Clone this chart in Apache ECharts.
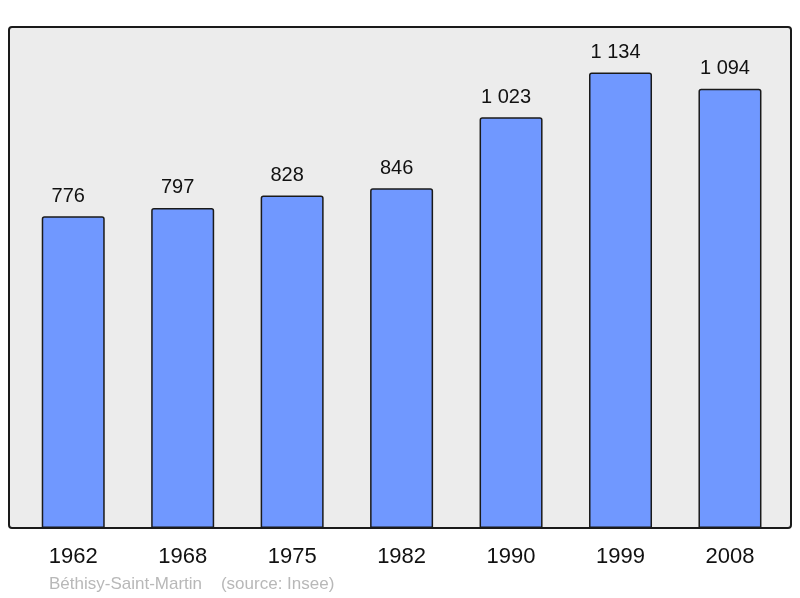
<!DOCTYPE html>
<html><head><meta charset="utf-8">
<script src="https://cdn.jsdelivr.net/npm/echarts@6/dist/echarts.min.js"></script>
<style>html,body{margin:0;padding:0;background:#fff}#c{width:800px;height:598px}</style>
</head><body><div id="c"></div>
<script>
const years = ['1962','1968','1975','1982','1990','1999','2008'];
const population = [776, 797, 828, 846, 1023, 1134, 1094];
const footerText = 'Béthisy-Saint-Martin    (source: Insee)';

const chart = echarts.init(document.getElementById('c'), null, {renderer:'canvas'});
chart.setOption({
  animation: false,
  backgroundColor: '#fff',
  textStyle: {fontFamily: 'Liberation Sans, Arial, sans-serif'},
  grid: {left: 18.5, right: 15.3, top: 26, bottom: 70, containLabel: false},
  graphic: [
    {type:'rect', z: 0, shape:{x:9, y:27, width:782, height:501, r:3},
     style:{fill:'#ececec', stroke:'#1a1a1a', lineWidth:2}},
    {type:'text', left: 49, top: 576, z: 10,
     style:{text: footerText, fill:'#b8b8b8', font:'17px "Liberation Sans", Arial, sans-serif'}}
  ],
  xAxis: {
    type:'category', data: years,
    axisLine:{show:false}, axisTick:{show:false},
    axisLabel:{color:'#111', fontSize:22, margin:18, fontFamily:'Liberation Sans, Arial, sans-serif'}
  },
  yAxis: {
    type:'value', min:0, max:1250, show:false, splitLine:{show:false}
  },
  series: [{
    type:'bar', data: population, barWidth: 63, z: 2,
    itemStyle:{color:'#7098ff', borderColor:'#1a1a1a', borderWidth:1.5, borderRadius:[2,2,0,0]},
    label:{show:true, position:'top', distance:10, offset:[-5,0], color:'#111', fontSize:20,
      fontFamily:'Liberation Sans, Arial, sans-serif',
      formatter: p => { const v = p.value; return v >= 1000 ? Math.floor(v/1000) + ' ' + String(v%1000).padStart(3,'0') : String(v); }}
  }]
});
</script></body></html>
